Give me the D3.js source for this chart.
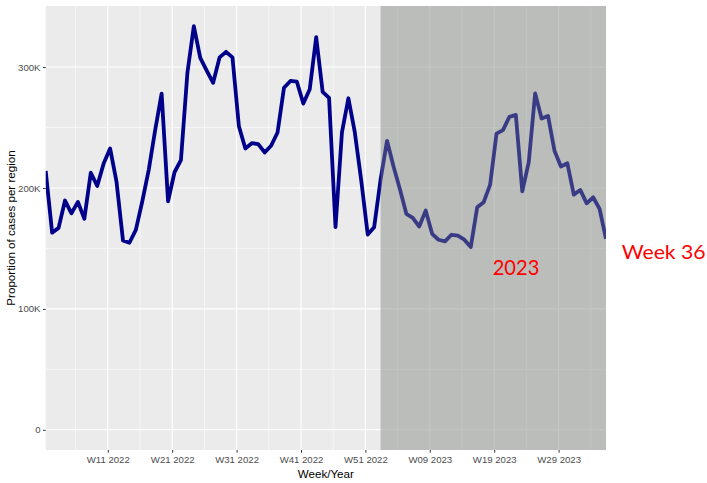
<!DOCTYPE html>
<html>
<head>
<meta charset="utf-8">
<script src="https://cdn.jsdelivr.net/npm/d3@7"></script>
<style>
  html, body { margin: 0; padding: 0; background: #ffffff; }
  svg { display: block; }
</style>
</head>
<body>
<svg id="chart" width="707" height="483"></svg>
<script>
// ---- data (values in thousands of cases) ----
const values2022 = [
  214, 163, 167, 189.6, 179, 188.5, 174.5, 212.6, 201.7, 220.3,
  232.7, 205, 156.6, 154.7, 165.4, 189, 215, 248, 278, 189,
  213, 223, 295, 333.8, 307.5, 297, 287, 308, 312.6, 308,
  251, 232.7, 237, 236.3, 229.4, 234.9, 245.9, 282.9, 288.5, 287.9,
  269.8, 281.6, 324.7, 279.5, 274.5, 167.6, 245.9, 274.2, 245.9, 206,
  161.5, 167.6
];
const values2023 = [
  207, 239, 218, 199, 178.6, 175.3, 168.1, 181.3, 162.1, 157.2,
  155.8, 161.3, 160.5, 157.2, 151.1, 184, 188.2, 202.5, 245, 247.8,
  258.8, 260.4, 197.2, 221.1, 278.2, 257.4, 259.6, 230.8, 217.8, 220.4,
  194.5, 198.4, 187.3, 192.3, 182.7, 158
];
const years = [2022, 2023];
const tickLabels = ["W11 2022", "W21 2022", "W31 2022", "W41 2022", "W51 2022",
                    "W09 2023", "W19 2023", "W29 2023"];
const yTicks = [0, 100, 200, 300];
const yTickLabels = ["0", "100K", "200K", "300K"];
const highlightText = "2023";
const endText = "Week 36";
const xTitle = "Week/Year";
const yTitle = "Proportion of cases per region";

// build rows: week index (continuous), year, week, value
const rows = [];
values2022.forEach((v, i) => rows.push({ idx: rows.length, year: 2022, week: i + 1, value: v * 1000 }));
values2023.forEach((v, i) => rows.push({ idx: rows.length, year: 2023, week: i + 1, value: v * 1000 }));
const weeksIn2022 = values2022.length;

// tick positions in week-index units (tick sits at start of the labelled week, points mid-week)
function tickIndex(label) {
  const m = label.match(/W(\d+) (\d+)/);
  const wk = +m[1], yr = +m[2];
  return (yr === 2022 ? wk - 1 : weeksIn2022 + wk - 1) - 0.36;
}

// ---- layout ----
const svg = d3.select("#chart");
const panel = { left: 45.7, right: 606, top: 6, bottom: 450 };

const x = d3.scaleLinear().domain([0, rows.length - 1]).range([panel.left, panel.right]);
const yMax = d3.max(rows, d => d.value);
const pad = (yMax - 0) * 0.05;
const y = d3.scaleLinear().domain([0 - pad, yMax + pad]).range([panel.bottom, panel.top]);

// panel background
svg.append("rect")
  .attr("x", panel.left).attr("y", panel.top)
  .attr("width", panel.right - panel.left).attr("height", panel.bottom - panel.top)
  .attr("fill", "#EBEBEB");

const grid = svg.append("g");
// minor y grid
const yMinor = [50, 150, 250].map(d => d * 1000);
grid.selectAll(".ymin").data(yMinor).enter().append("line")
  .attr("x1", panel.left).attr("x2", panel.right)
  .attr("y1", d => y(d)).attr("y2", d => y(d))
  .attr("stroke", "#ffffff").attr("stroke-width", 0.55);
// major y grid
grid.selectAll(".ymaj").data(yTicks).enter().append("line")
  .attr("x1", panel.left).attr("x2", panel.right)
  .attr("y1", d => y(d * 1000)).attr("y2", d => y(d * 1000))
  .attr("stroke", "#ffffff").attr("stroke-width", 1.1);

// x grid
const xMajor = tickLabels.map(tickIndex);
const step = xMajor[1] - xMajor[0];
const xMinor = [xMajor[0] - step / 2].concat(xMajor.map(t => t + step / 2))
  .filter(t => x(t) > panel.left && x(t) < panel.right);
grid.selectAll(".xmin").data(xMinor).enter().append("line")
  .attr("x1", d => x(d)).attr("x2", d => x(d))
  .attr("y1", panel.top).attr("y2", panel.bottom)
  .attr("stroke", "#ffffff").attr("stroke-width", 0.55);
grid.selectAll(".xmaj").data(xMajor).enter().append("line")
  .attr("x1", d => x(d)).attr("x2", d => x(d))
  .attr("y1", panel.top).attr("y2", panel.bottom)
  .attr("stroke", "#ffffff").attr("stroke-width", 1.1);

// clip
svg.append("clipPath").attr("id", "clip").append("rect")
  .attr("x", panel.left).attr("y", panel.top)
  .attr("width", panel.right - panel.left).attr("height", panel.bottom - panel.top);

// line
const line = d3.line().x(d => x(d.idx)).y(d => y(d.value));
svg.append("path")
  .datum(rows)
  .attr("clip-path", "url(#clip)")
  .attr("d", line)
  .attr("fill", "none")
  .attr("stroke", "#00008B")
  .attr("stroke-width", 3.8)
  .attr("stroke-linejoin", "round");

// 2023 shaded region (semi-transparent over line)
const first2023 = rows.find(d => d.year === years[1]).idx;
svg.append("rect")
  .attr("x", x(first2023)).attr("y", panel.top)
  .attr("width", panel.right - x(first2023)).attr("height", panel.bottom - panel.top)
  .attr("fill", "#7f847f").attr("fill-opacity", 0.45);

// axes
const yAxis = d3.axisLeft(y)
  .tickValues(yTicks.map(d => d * 1000))
  .tickFormat((d, i) => yTickLabels[i])
  .tickSize(2.7).tickPadding(2.5);
const gy = svg.append("g").attr("transform", `translate(${panel.left},0)`).call(yAxis);
gy.select(".domain").remove();
gy.selectAll(".tick line").attr("stroke", "#333333").attr("stroke-width", 1);
gy.selectAll(".tick text").attr("fill", "#4D4D4D")
  .style("font-family", "'Liberation Sans', Arial, sans-serif").style("font-size", "9.6px");

const xAxis = d3.axisBottom(x)
  .tickValues(xMajor)
  .tickFormat((d, i) => tickLabels[i])
  .tickSize(2.7).tickPadding(3);
const gx = svg.append("g").attr("transform", `translate(0,${panel.bottom})`).call(xAxis);
gx.select(".domain").remove();
gx.selectAll(".tick line").attr("stroke", "#333333").attr("stroke-width", 1);
gx.selectAll(".tick text").attr("fill", "#4D4D4D")
  .style("font-family", "'Liberation Sans', Arial, sans-serif").style("font-size", "9.6px");

// axis titles
svg.append("text")
  .attr("x", (panel.left + panel.right) / 2).attr("y", 478)
  .attr("text-anchor", "middle")
  .style("font-family", "'Liberation Sans', Arial, sans-serif").style("font-size", "11.6px")
  .attr("fill", "#000000").text(xTitle);

svg.append("text")
  .attr("transform", `translate(14.5,${(panel.top + panel.bottom) / 2}) rotate(-90)`)
  .attr("text-anchor", "middle")
  .style("font-family", "'Liberation Sans', Arial, sans-serif").style("font-size", "11.6px")
  .attr("fill", "#000000").text(yTitle);

// red annotations
svg.append("text")
  .attr("x", 492.7).attr("y", 275)
  .attr("textLength", 46.6).attr("lengthAdjust", "spacingAndGlyphs")
  .style("font-family", "Lato, 'Open Sans', sans-serif").style("font-size", "22px")
  .attr("fill", "#FF0000").text(highlightText);
svg.append("text")
  .attr("x", 621.7).attr("y", 259.3)
  .attr("textLength", 84).attr("lengthAdjust", "spacingAndGlyphs")
  .style("font-family", "Lato, 'Open Sans', sans-serif").style("font-size", "20px")
  .attr("fill", "#FF0000").text(endText);
</script>
</body>
</html>
